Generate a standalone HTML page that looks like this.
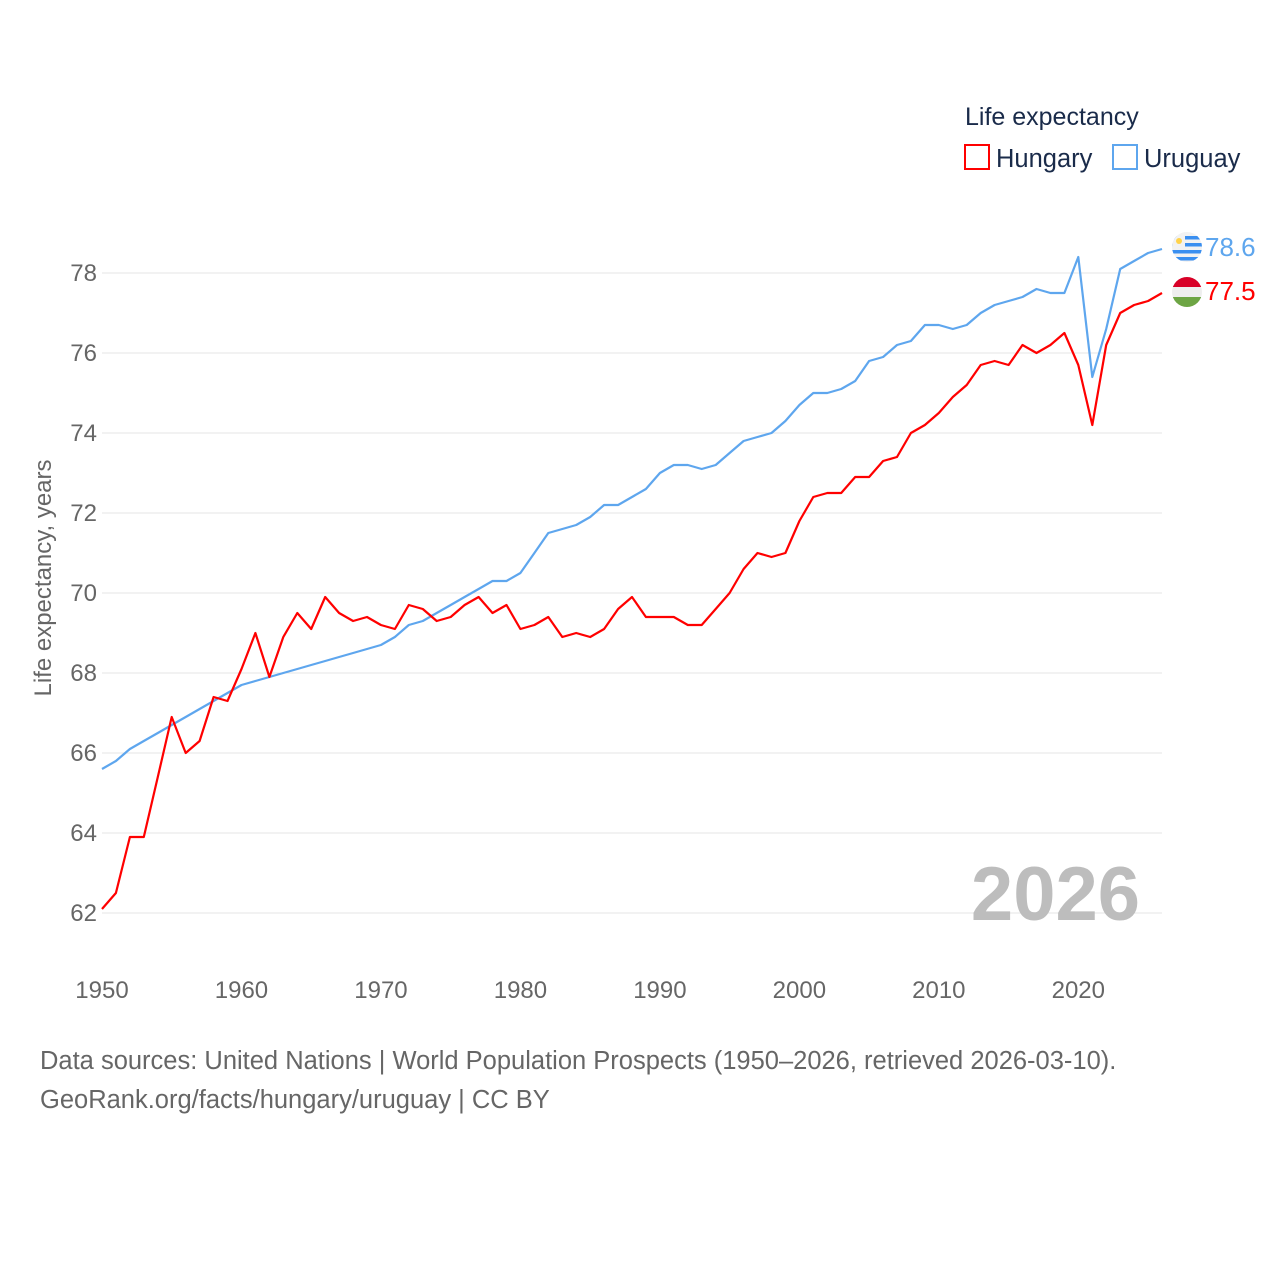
<!DOCTYPE html>
<html><head><meta charset="utf-8">
<style>
html,body{margin:0;padding:0;background:#fff;}
body{width:1280px;height:1280px;overflow:hidden;font-family:"Liberation Sans",sans-serif;}
svg text{font-family:"Liberation Sans",sans-serif;}
</style></head>
<body>
<svg id="chart" width="1280" height="1280" xmlns="http://www.w3.org/2000/svg">
<g id="grid"></g>
<g id="yticks"></g>
<g id="xticks"></g>
<text transform="translate(51,578) rotate(-90)" text-anchor="middle" font-size="24" fill="#666">Life expectancy, years</text>
<text x="1140" y="920" text-anchor="end" font-size="76" font-weight="bold" fill="#bdbdbd">2026</text>
<g id="series"></g>
<g>
<text x="965" y="125" font-size="25" fill="#1a2b4a">Life expectancy</text>
<rect x="965" y="145" width="24" height="24" fill="none" stroke="#ff0000" stroke-width="2"/>
<text x="996" y="167" font-size="25.5" fill="#1a2b4a">Hungary</text>
<rect x="1113" y="145" width="24" height="24" fill="none" stroke="#5ea6ee" stroke-width="2"/>
<text x="1144" y="167" font-size="25.5" fill="#1a2b4a">Uruguay</text>
</g>
<defs>
<clipPath id="cu"><circle cx="1187" cy="247" r="15"/></clipPath>
<clipPath id="ch"><circle cx="1187" cy="292" r="15"/></clipPath>
</defs>
<g clip-path="url(#cu)">
<rect x="1172" y="232" width="30" height="30" fill="#f2f2f2"/>
<rect x="1172" y="236" width="30" height="3.5" fill="#3a8ff0"/>
<rect x="1172" y="243" width="30" height="3.5" fill="#3a8ff0"/>
<rect x="1172" y="250" width="30" height="3.5" fill="#3a8ff0"/>
<rect x="1172" y="257" width="30" height="3.5" fill="#3a8ff0"/>
<rect x="1172" y="232" width="13" height="15" fill="#f2f2f2"/>
<circle cx="1179" cy="241" r="3" fill="#ffd24a"/>
</g>
<g clip-path="url(#ch)">
<rect x="1172" y="277" width="30" height="10" fill="#d80027"/>
<rect x="1172" y="287" width="30" height="10" fill="#eeeeee"/>
<rect x="1172" y="297" width="30" height="10" fill="#6da544"/>
</g>
<g id="endlabels"></g>
<text x="40" y="1069" font-size="25.5" fill="#666">Data sources: United Nations | World Population Prospects (1950–2026, retrieved 2026-03-10).</text>
<text x="40" y="1108" font-size="25.5" fill="#666">GeoRank.org/facts/hungary/uruguay | CC BY</text>
</svg>
<script>
const years = [];
for (let y = 1950; y <= 2026; y++) years.push(y);
const hungary = [62.1,62.5,63.9,63.9,65.4,66.9,66.0,66.3,67.4,67.3,68.1,69.0,67.9,68.9,69.5,69.1,69.9,69.5,69.3,69.4,69.2,69.1,69.7,69.6,69.3,69.4,69.7,69.9,69.5,69.7,69.1,69.2,69.4,68.9,69.0,68.9,69.1,69.6,69.9,69.4,69.4,69.4,69.2,69.2,69.6,70.0,70.6,71.0,70.9,71.0,71.8,72.4,72.5,72.5,72.9,72.9,73.3,73.4,74.0,74.2,74.5,74.9,75.2,75.7,75.8,75.7,76.2,76.0,76.2,76.5,75.7,74.2,76.2,77.0,77.2,77.3,77.5];
const uruguay = [65.6,65.8,66.1,66.3,66.5,66.7,66.9,67.1,67.3,67.5,67.7,67.8,67.9,68.0,68.1,68.2,68.3,68.4,68.5,68.6,68.7,68.9,69.2,69.3,69.5,69.7,69.9,70.1,70.3,70.3,70.5,71.0,71.5,71.6,71.7,71.9,72.2,72.2,72.4,72.6,73.0,73.2,73.2,73.1,73.2,73.5,73.8,73.9,74.0,74.3,74.7,75.0,75.0,75.1,75.3,75.8,75.9,76.2,76.3,76.7,76.7,76.6,76.7,77.0,77.2,77.3,77.4,77.6,77.5,77.5,78.4,75.4,76.6,78.1,78.3,78.5,78.6];
const yTicks = [62,64,66,68,70,72,74,76,78];
const xTicks = [1950,1960,1970,1980,1990,2000,2010,2020];

const NS = "http://www.w3.org/2000/svg";
const X = yr => 102 + (yr - 1950) * (1162 - 102) / 76;
const Y = v => 273 + (78 - v) * 40;
function mk(tag, attrs, parent){const e=document.createElementNS(NS,tag);for(const k in attrs)e.setAttribute(k,attrs[k]);parent.appendChild(e);return e;}

const grid = document.getElementById('grid');
const yt = document.getElementById('yticks');
yTicks.forEach(v => {
  const l = mk('line',{x1:102,x2:1162,y1:Y(v),y2:Y(v),stroke:'#e6e6e6','stroke-width':1},grid);
  
  
  const t = mk('text',{x:97,y:Y(v)+8,'text-anchor':'end','font-size':24,fill:'#666'},yt);
  t.textContent = v;
  
  
});
const xt = document.getElementById('xticks');
xTicks.forEach(yr => {
  const t = mk('text',{x:X(yr),y:998,'text-anchor':'middle','font-size':24,fill:'#666'},xt);
  t.textContent = yr;
  
  
});
const sg = document.getElementById('series');
function line(vals,color,name){
  const d = vals.map((v,i)=>(i?'L':'M')+X(years[i]).toFixed(1)+','+Y(v).toFixed(1)).join(' ');
  const p = mk('path',{d:d,fill:'none',stroke:color,'stroke-width':2.2,'stroke-linejoin':'round'},sg);
  
  
}
line(uruguay,'#5ea6ee','uruguay-line');
line(hungary,'#ff0000','hungary-line');
const el = document.getElementById('endlabels');
const t1 = mk('text',{x:1205,y:Y(uruguay[uruguay.length-1])+7,'font-size':26,fill:'#5ea6ee'},el);
t1.textContent = uruguay[uruguay.length-1].toFixed(1);


const t2 = mk('text',{x:1205,y:Y(hungary[hungary.length-1])+7,'font-size':26,fill:'#ff0000'},el);
t2.textContent = hungary[hungary.length-1].toFixed(1);


</script>
</body></html>
